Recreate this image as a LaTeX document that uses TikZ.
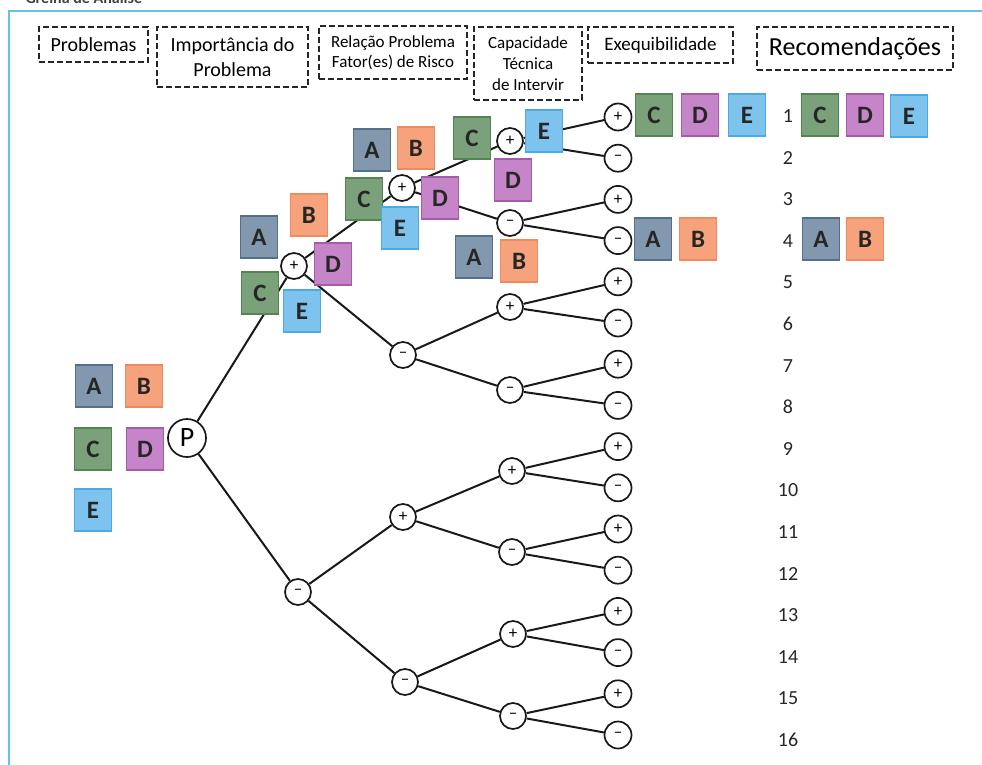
\documentclass[tikz,border=0pt]{standalone}
\usepackage{fontspec}
\setmainfont{Carlito}
\definecolor{frameblue}{HTML}{62C4E2}
\definecolor{colA}{HTML}{8198AE}\definecolor{colAd}{HTML}{536F8A}
\definecolor{colB}{HTML}{F6A27C}\definecolor{colBd}{HTML}{EE8B5E}
\definecolor{colC}{HTML}{7BA17B}\definecolor{colCd}{HTML}{538553}
\definecolor{colD}{HTML}{C685C8}\definecolor{colDd}{HTML}{A45CA8}
\definecolor{colE}{HTML}{7EC2EE}\definecolor{colEd}{HTML}{4BA9E6}
\begin{document}
\begin{tikzpicture}[x=1pt,y=-1pt,
  hdr/.style={draw=black!85, line width=1.8pt, dash pattern=on 6pt off 3pt,
    inner sep=0pt, align=center},
  circ/.style={circle, draw=black!90, line width=1.7pt, fill=white,
    minimum size=26pt, inner sep=0pt, font=\fontsize{17}{17}\selectfont},
  leaf/.style={circ, minimum size=27pt},
  edge/.style={draw=black!90, line width=2pt},
  lbox/.style={draw, line width=1.1pt, minimum width=37pt, minimum height=42pt,
    inner sep=0pt, text=black!85, font=\fontsize{25}{25}\selectfont\bfseries},
  bA/.style={lbox, fill=colA, draw=colAd},
  bB/.style={lbox, fill=colB, draw=colBd},
  bC/.style={lbox, fill=colC, draw=colCd},
  bD/.style={lbox, fill=colD, draw=colDd},
  bE/.style={lbox, fill=colE, draw=colEd},
  num/.style={font=\fontsize{20}{20}\selectfont, text=black!85}
]
\useasboundingbox (0,0) rectangle (982,765);

% title and frame
\node[anchor=base west, font=\fontsize{16}{16}\selectfont\bfseries, text=black!75]
  (title) at (22,4) {Grelha de Análise};
\draw[frameblue, line width=1.5pt] (9,775) -- (9,11) -- (995,11);

% column headers
\node[hdr, minimum width=109pt, minimum height=35pt, font=\fontsize{20}{23}\selectfont]
  (h1) at (93.5,44.5) {Problemas};
\node[hdr, minimum width=151pt, minimum height=60pt, font=\fontsize{20}{25}\selectfont]
  (h2) at (232.5,57) {Importância do\\Problema};
\node[hdr, minimum width=148pt, minimum height=53pt, font=\fontsize{17}{20}\selectfont]
  (h3) at (393,52.5) {Relação Problema\\Fator(es) de Risco};
\node[hdr, minimum width=108pt, minimum height=73pt, font=\fontsize{17}{21}\selectfont]
  (h4) at (528,63.5) {Capacidade\\Técnica\\de Intervir};
\node[hdr, minimum width=145pt, minimum height=36pt, font=\fontsize{19}{22}\selectfont]
  (h5) at (660.5,45) {Exequibilidade};
\node[hdr, minimum width=196pt, minimum height=43pt, font=\fontsize{26}{28}\selectfont]
  (h6) at (855,48.5) {Recomendações};

% decision tree nodes
\node[circ, minimum size=38pt, font=\fontsize{28}{28}\selectfont] (P) at (187,438) {P};
\node[circ] (r1) at (294,266) {+};
\node[circ] (r2) at (298,592) {–};
\node[circ] (s1) at (402,188) {+};
\node[circ] (s2) at (403,355) {–};
\node[circ] (s3) at (403,517) {+};
\node[circ] (s4) at (405,682) {–};
\node[circ] (t1) at (510,141) {+};
\node[circ] (t2) at (510,223) {–};
\node[circ] (t3) at (510,307) {+};
\node[circ] (t4) at (510,390) {–};
\node[circ] (t5) at (512,471) {+};
\node[circ] (t6) at (512,552) {–};
\node[circ] (t7) at (513,634) {+};
\node[circ] (t8) at (513,716) {–};
\foreach \k in {1,...,16}{
  \pgfmathsetmacro{\ly}{117+(\k-1)*41.2}
  \pgfmathsetmacro{\ny}{116+(\k-1)*41.6}
  \ifodd\k
    \node[leaf] (l\k) at (618,\ly) {+};
  \else
    \node[leaf] (l\k) at (618,\ly) {–};
  \fi
  \node[num] (n\k) at (788,\ny) {\k};
}

% branches
\draw[edge] (P) -- (r1);
\draw[edge] (P) -- (r2);
\draw[edge] (r1) -- (s1);
\draw[edge] (r1) -- (s2);
\draw[edge] (r2) -- (s3);
\draw[edge] (r2) -- (s4);
\draw[edge] (s1) -- (t1);
\draw[edge] (s1) -- (t2);
\draw[edge] (s2) -- (t3);
\draw[edge] (s2) -- (t4);
\draw[edge] (s3) -- (t5);
\draw[edge] (s3) -- (t6);
\draw[edge] (s4) -- (t7);
\draw[edge] (s4) -- (t8);
\foreach \i [evaluate=\i as \a using int(2*\i-1), evaluate=\i as \b using int(2*\i)] in {1,...,8}{
  \draw[edge] (t\i) -- (l\a);
  \draw[edge] (t\i) -- (l\b);
}

% problems
\node[bA] (pa) at (94,386) {A};
\node[bB] (pb) at (144,386) {B};
\node[bC] (pc) at (93,449) {C};
\node[bD] (pd) at (145,449) {D};
\node[bE] (pe) at (93,510) {E};

% importance of the problem
\node[bA] (ia) at (259,237) {A};
\node[bB] (ib) at (309,215) {B};
\node[bC] (ic) at (260,293) {C};
\node[bD] (id) at (333,264) {D};
\node[bE] (ie) at (302,311) {E};

% relation problem / risk factors
\node[bA] (ra) at (372,150) {A};
\node[bB] (rb) at (416,148) {B};
\node[bC] (rc) at (364,199) {C};
\node[bE] (re) at (400,228) {E};
\node[bD] (rd) at (440,198) {D};

% technical capacity
\node[bC] (cc) at (472,138) {C};
\node[bE] (ce) at (544,131) {E};
\node[bD] (cd) at (513,180) {D};
\node[bA] (ca) at (474,257) {A};
\node[bB] (cb) at (519,261) {B};

% feasibility
\node[bC] (fc) at (654,115) {C};
\node[bD] (fd) at (700,115) {D};
\node[bE] (fe) at (747,115) {E};
\node[bA] (fa) at (653,239) {A};
\node[bB] (fb) at (698,239) {B};

% recommendations
\node[bC] (kc) at (820,115) {C};
\node[bD] (kd) at (865,115) {D};
\node[bE] (ke) at (909,116) {E};
\node[bA] (ka) at (821,239) {A};
\node[bB] (kb) at (865,239) {B};
\end{tikzpicture}
\end{document}
